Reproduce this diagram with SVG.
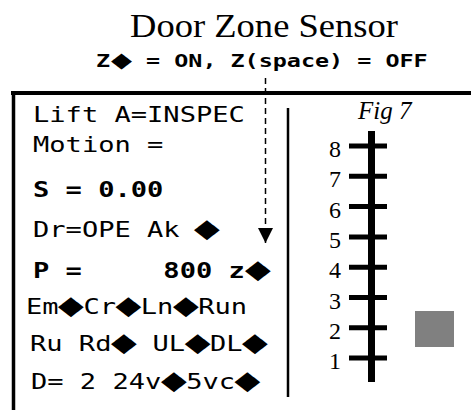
<svg xmlns="http://www.w3.org/2000/svg" width="471" height="410" viewBox="0 0 471 410">
<style>
.title{font-family:"Liberation Serif","Times New Roman",serif;font-size:33px;fill:#000}
.sub{font-family:"DejaVu Sans Mono",monospace;font-size:18px;font-weight:bold;fill:#000}
.mono{font-family:"DejaVu Sans Mono",monospace;font-size:21px;fill:#000}
.b{font-weight:bold}
.d{font-family:"DejaVu Sans",sans-serif;font-size:26px;text-anchor:middle;font-weight:normal}
.ds{font-family:"DejaVu Sans",sans-serif;font-size:21px;text-anchor:middle;font-weight:normal}
.num{font-family:"Liberation Serif","Times New Roman",serif;font-size:24px;fill:#000;text-anchor:end}
.fig{font-family:"Liberation Serif","Times New Roman",serif;font-size:25px;font-style:italic;fill:#000}
.tick{stroke:#000;stroke-width:5}
</style>
<defs>
<marker id="arrow" viewBox="0 0 15 15" refX="15" refY="7.5" markerWidth="15" markerHeight="15" markerUnits="userSpaceOnUse" orient="auto">
<path d="M0,0 L15,7.5 L0,15 Z" fill="#000"/>
</marker>
</defs>
<rect width="471" height="410" fill="#fff"/>
<g id="title">
<text class="title" x="130" y="37" textLength="268" lengthAdjust="spacingAndGlyphs">Door Zone Sensor</text>
<text class="sub" y="67" transform="scale(1.3,1)"><tspan x="73.85">Z</tspan><tspan class="ds" x="93.5">◆</tspan><tspan x="101.54"> = ON, Z(space) = OFF</tspan></text>
</g>
<g id="display">
<line x1="11" y1="93" x2="471" y2="93" stroke="#000" stroke-width="4"/>
<line x1="13.5" y1="91" x2="13.5" y2="410" stroke="#000" stroke-width="3.5"/>
<line x1="288" y1="108" x2="288" y2="397" stroke="#000" stroke-width="2.5"/>
<g transform="scale(1.289,1)">
<text class="mono" x="25.6" y="122">Lift A=INSPEC</text>
<text class="mono" x="25.6" y="152">Motion =</text>
<text class="mono b" x="25.6" y="197">S = 0.00</text>
<text class="mono" y="237"><tspan x="25.6">Dr=OPE Ak </tspan><tspan class="d" x="160.59">◆</tspan></text>
<text class="mono b" y="278" xml:space="preserve"><tspan x="25.6">P =     800 z</tspan><tspan class="d" x="200.16">◆</tspan></text>
<text class="mono" y="314"><tspan x="20.17">Em</tspan><tspan class="d" x="55.08">◆</tspan><tspan x="64.7">Cr</tspan><tspan class="d" x="99.61">◆</tspan><tspan x="109.23">Ln</tspan><tspan class="d" x="144.14">◆</tspan><tspan x="153.76">Run</tspan></text>
<text class="mono" y="351"><tspan x="23.27">Ru Rd</tspan><tspan class="d" x="96.12">◆</tspan><tspan x="105.74"> UL</tspan><tspan class="d" x="153.3">◆</tspan><tspan x="162.92">DL</tspan><tspan class="d" x="197.83">◆</tspan></text>
<text class="mono" y="389"><tspan x="24.05">D= 2 24v</tspan><tspan class="d" x="134.83">◆</tspan><tspan x="144.45">5vc</tspan><tspan class="d" x="192.01">◆</tspan></text>
</g>
</g>
<g id="shaft">
<text class="fig" x="358" y="119">Fig 7</text>
<line x1="371.5" y1="131" x2="371.5" y2="382" stroke="#000" stroke-width="7"/>
<line class="tick" x1="349" y1="146" x2="387" y2="146"/>
<line class="tick" x1="349" y1="176.3" x2="387" y2="176.3"/>
<line class="tick" x1="349" y1="206.6" x2="387" y2="206.6"/>
<line class="tick" x1="349" y1="236.9" x2="387" y2="236.9"/>
<line class="tick" x1="349" y1="267.2" x2="387" y2="267.2"/>
<line class="tick" x1="349" y1="297.5" x2="387" y2="297.5"/>
<line class="tick" x1="349" y1="327.8" x2="387" y2="327.8"/>
<line class="tick" x1="349" y1="358.1" x2="387" y2="358.1"/>
<text class="num" x="341" y="157">8</text>
<text class="num" x="341" y="187.3">7</text>
<text class="num" x="341" y="217.6">6</text>
<text class="num" x="341" y="247.9">5</text>
<text class="num" x="341" y="278.2">4</text>
<text class="num" x="341" y="308.5">3</text>
<text class="num" x="341" y="338.8">2</text>
<text class="num" x="341" y="369.1">1</text>
</g>
<g id="car">
<rect x="415" y="311" width="39" height="36" fill="#808080"/>
</g>
<g id="connectors">
<line x1="265.5" y1="78" x2="265.5" y2="243" stroke="#000" stroke-width="1.5" stroke-dasharray="6,4" marker-end="url(#arrow)"/>
</g>
</svg>
